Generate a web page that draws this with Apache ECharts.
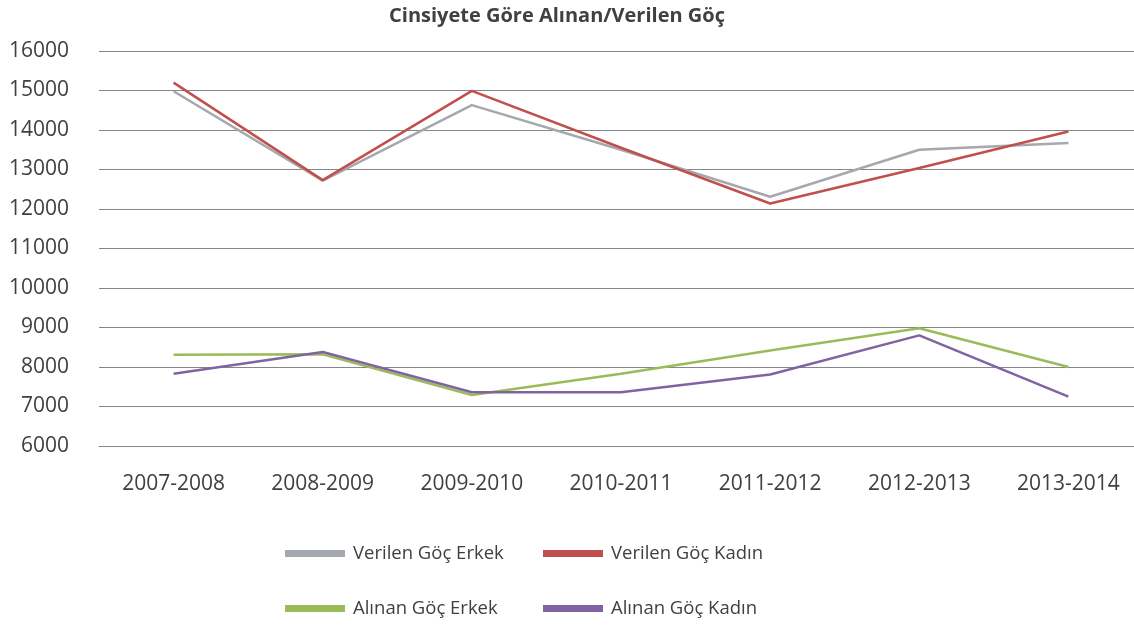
<!DOCTYPE html>
<html>
<head>
<meta charset="utf-8">
<script src="https://cdn.jsdelivr.net/npm/echarts@6/dist/echarts.min.js"></script>
<style>
  html, body { margin: 0; padding: 0; background: #fff; }
  #chart { width: 1134px; height: 628px; }
</style>
</head>
<body>
<div id="chart"></div>
<script>
// kategoriler (yıllar)
const years = ['2007-2008', '2008-2009', '2009-2010', '2010-2011', '2011-2012', '2012-2013', '2013-2014']

// seriler
const verilenErkek = [14980, 12720, 14630, 13500, 12310, 13500, 13670]
const verilenKadin = [15200, 12730, 14990, 13550, 12140, 13040, 13960]
const alinanErkek = [8310, 8320, 7290, 7830, 8420, 8980, 8000]
const alinanKadin = [7830, 8380, 7360, 7360, 7810, 8800, 7250]

const seriesNames = ['Verilen Göç Erkek', 'Verilen Göç Kadın', 'Alınan Göç Erkek', 'Alınan Göç Kadın']
const colors = ['#A5A8AE', '#C0504D', '#9BBB59', '#8064A2']

const font = "'Open Sans', 'DejaVu Sans', sans-serif"
const textColor = '#404040'

const myChart = echarts.init(document.getElementById('chart'))

// her lejant öğesi ayrı konumlanıyor
const legendPos = [
  { left: 285, top: 544 },
  { left: 543, top: 544 },
  { left: 285, top: 599 },
  { left: 543, top: 599 }
]

const makeSeries = (name, data, color) => ({
  name: name,
  type: 'line',
  data: data,
  symbol: 'none',
  color: color,
  lineStyle: { width: 2.5, color: color },
  animation: false
})

myChart.setOption({
  animation: false,
  textStyle: { fontFamily: font },
  title: {
    text: 'Cinsiyete Göre Alınan/Verilen Göç',
    left: 552,
    textAlign: 'center',
    top: 1,
    textStyle: { fontFamily: font, fontSize: 20, fontWeight: 'bold', color: textColor }
  },
  legend: legendPos.map((p, i) => ({
    data: [seriesNames[i]],
    left: p.left,
    top: p.top,
    padding: 0,
    icon: 'rect',
    itemWidth: 60,
    itemHeight: 7,
    itemGap: 8,
    textStyle: { fontFamily: font, fontSize: 18.5, color: textColor, padding: [0, 0, 0, 3] }
  })),
  grid: {
    left: 99,
    top: 51,
    width: 1044,
    height: 395,
    containLabel: false,
    outerBoundsMode: 'none'
  },
  xAxis: {
    type: 'category',
    data: years,
    boundaryGap: true,
    axisLine: { show: true, lineStyle: { color: '#868686', width: 1 } },
    axisTick: { show: false },
    axisLabel: { color: textColor, fontSize: 21, fontFamily: font, margin: 28, interval: 0 }
  },
  yAxis: {
    type: 'value',
    min: 6000,
    max: 16000,
    interval: 1000,
    axisLine: { show: false },
    axisTick: { show: false },
    axisLabel: { color: textColor, fontSize: 21, fontFamily: font, margin: 30, formatter: v => String(v) },
    splitLine: { lineStyle: { color: '#868686', width: 1 } }
  },
  series: [
    makeSeries(seriesNames[0], verilenErkek, colors[0]),
    makeSeries(seriesNames[1], verilenKadin, colors[1]),
    makeSeries(seriesNames[2], alinanErkek, colors[2]),
    makeSeries(seriesNames[3], alinanKadin, colors[3])
  ]
})
</script>
</body>
</html>
